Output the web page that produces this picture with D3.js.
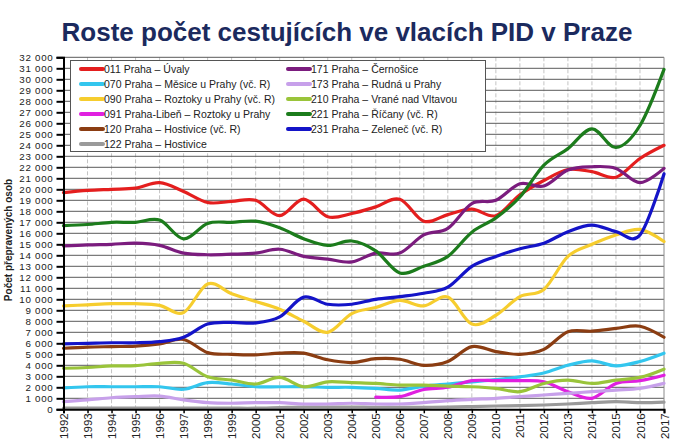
<!DOCTYPE html>
<html>
<head>
<meta charset="utf-8">
<script src="https://cdn.jsdelivr.net/npm/d3@7"></script>
<style>
  html, body { margin: 0; padding: 0; background: #ffffff; }
  svg { display: block; font-family: "Liberation Sans", Arial, sans-serif; }
</style>
</head>
<body>
<svg id="chart" width="682" height="443"></svg>
<script>
const titleText = "Roste počet cestujících ve vlacích PID v Praze";
const yAxisTitle = "Počet přepravených osob";
const years = [1992,1993,1994,1995,1996,1997,1998,1999,2000,2001,2002,2003,2004,2005,2006,2007,2008,2009,2010,2011,2012,2013,2014,2015,2016,2017];
const yTicks = [0,1000,2000,3000,4000,5000,6000,7000,8000,9000,10000,11000,12000,13000,14000,15000,16000,17000,18000,19000,20000,21000,22000,23000,24000,25000,26000,27000,28000,29000,30000,31000,32000];

const seriesNames = [
  "011 Praha – Úvaly",
  "070 Praha – Měsice u Prahy (vč. R)",
  "090 Praha – Roztoky u Prahy (vč. R)",
  "091 Praha-Libeň – Roztoky u Prahy",
  "120 Praha – Hostivice (vč. R)",
  "122 Praha – Hostivice",
  "171 Praha – Černošice",
  "173 Praha – Rudná u Prahy",
  "210 Praha – Vrané nad Vltavou",
  "221 Praha – Říčany (vč. R)",
  "231 Praha – Zeleneč (vč. R)"
];
const seriesColors = ["#e41e1e","#33c6ee","#f6cd2e","#e020e0","#8b3d12","#9a9a9a","#7b1c7e","#c7a0ea","#9ac43a","#1c7c1c","#1414c8"];

const s011 = [19700,19900,20000,20100,20600,19800,18800,18900,19000,17600,19100,17500,17800,18400,19100,17100,17700,18200,17600,19500,20800,21800,21600,21100,22800,24000];
const s070 = [1950,2050,2050,2050,2050,1820,2420,2300,2050,2050,2050,2000,2000,1900,1750,2100,2300,2500,2700,2950,3300,4000,4400,3950,4350,5100];
const s090 = [9400,9500,9600,9600,9450,8800,11400,10500,9800,9100,8000,7000,8700,9250,9900,9400,10200,7750,8550,10250,10900,13900,15000,15850,16350,15250];
const s091 = [null,null,null,null,null,null,null,null,null,null,null,null,null,1100,1150,1800,2000,2600,2600,2600,2500,1600,1000,2350,2600,3100];
const s120 = [5550,5650,5700,5750,5950,6350,5150,5000,4950,5100,5100,4500,4250,4600,4550,4000,4350,5700,5250,5000,5450,7050,7100,7350,7550,6550];
const s122 = [100,100,100,100,100,100,100,100,100,150,200,200,200,180,180,180,200,250,300,330,390,480,600,690,600,650];
const s171 = [14850,14950,15000,15100,14900,14200,14050,14100,14200,14550,13900,13650,13400,14200,14200,15850,16450,18700,19000,20500,20300,21750,22050,21900,20600,21900];
const s173 = [700,850,1050,1150,1200,850,600,550,600,600,480,480,550,480,480,600,780,900,1000,1150,1300,1450,1600,1750,1900,2360];
const s210 = [3730,3800,3940,3970,4180,4180,2960,2660,2300,2900,2050,2500,2420,2350,2200,2200,2100,2050,1900,1600,2350,2650,2350,2650,2900,3650];
const s221 = [16700,16800,17000,17000,17200,15500,16900,17000,17100,16500,15500,14900,15300,14400,12400,13000,13900,16100,17400,19300,22200,23700,25500,23800,25800,30900];
const s231 = [5950,6000,6050,6050,6150,6550,7750,7900,7850,8400,10200,9550,9550,10000,10250,10550,11100,13000,13900,14600,15100,16150,16750,16150,15850,21400];

const seriesValues = [s011,s070,s090,s091,s120,s122,s171,s173,s210,s221,s231];

const svg = d3.select("#chart");
const x = d3.scaleLinear().domain([1992, 2017]).range([63.5, 664]);
const y = d3.scaleLinear().domain([0, 32000]).range([409.3, 57.3]);
const fmtLocale = d3.formatLocale({decimal: ",", thousands: " ", grouping: [3], currency: ["", ""]});
const fmt = fmtLocale.format(",d");

// Title
svg.append("text")
  .attr("x", 347).attr("y", 41)
  .attr("text-anchor", "middle")
  .attr("font-size", 26).attr("font-weight", "bold")
  .attr("fill", "#1b2a5e")
  .text(titleText);

// vertical grid
svg.append("g").selectAll("line").data(years.slice(1, -1)).join("line")
  .attr("x1", d => x(d)).attr("x2", d => x(d))
  .attr("y1", y(32000)).attr("y2", y(0))
  .attr("stroke", "#c4c4c4").attr("stroke-width", 1).attr("stroke-dasharray", "4,2");

// horizontal grid
svg.append("g").selectAll("line").data(yTicks.slice(1)).join("line")
  .attr("x1", x(1992)).attr("x2", x(2017))
  .attr("y1", d => y(d)).attr("y2", d => y(d))
  .attr("stroke", "#5a5a5a").attr("stroke-width", 1);

// right border
svg.append("line")
  .attr("x1", x(2017)).attr("x2", x(2017))
  .attr("y1", y(32000)).attr("y2", y(0))
  .attr("stroke", "#8a8a8a").attr("stroke-width", 1);

// series
const line = d3.line()
  .defined(d => d[1] !== null)
  .x(d => x(d[0])).y(d => y(d[1]))
  .curve(d3.curveCardinal.tension(0));

const gSeries = svg.append("g");
seriesValues.forEach((vals, i) => {
  gSeries.append("path")
    .datum(years.map((yr, j) => [yr, vals[j]]))
    .attr("d", line)
    .attr("fill", "none")
    .attr("stroke", seriesColors[i])
    .attr("stroke-width", 3.2)
    .attr("stroke-linejoin", "round")
    .attr("stroke-linecap", "round");
});

// Y axis
const yAxis = d3.axisLeft(y).tickValues(yTicks).tickFormat(fmt).tickSize(7).tickPadding(3);
const gy = svg.append("g").attr("transform", `translate(${x(1992)},0)`).call(yAxis);
gy.select(".domain").attr("stroke", "#000").attr("stroke-width", 2);
gy.selectAll(".tick line").attr("stroke", "#000").attr("stroke-width", 2);
gy.selectAll(".tick text").attr("font-size", 9.8).attr("fill", "#222")
  .attr("letter-spacing", 0.7)
  .attr("font-family", "Liberation Sans, Arial, sans-serif");

// X axis
const xAxis = d3.axisBottom(x).tickValues(years).tickFormat(d3.format("d")).tickSize(4).tickPadding(3);
const gx = svg.append("g").attr("transform", `translate(0,${y(0)})`).call(xAxis);
gx.select(".domain").attr("stroke", "#000").attr("stroke-width", 2);
gx.selectAll(".tick line").attr("stroke", "#000").attr("stroke-width", 1.5);
gx.selectAll(".tick text")
  .attr("font-size", 11.5).attr("fill", "#222")
  .attr("font-family", "Liberation Sans, Arial, sans-serif")
  .attr("transform", "rotate(-90)")
  .attr("text-anchor", "end")
  .attr("x", -4).attr("y", 0).attr("dy", "0.35em");

// Y axis title
svg.append("text")
  .attr("transform", "translate(12,240) rotate(-90)")
  .attr("text-anchor", "middle")
  .attr("font-size", 10).attr("font-weight", "bold").attr("fill", "#222")
  .text(yAxisTitle);

// Legend
const lg = svg.append("g");
lg.append("rect")
  .attr("x", 70.5).attr("y", 60.5).attr("width", 415).attr("height", 91)
  .attr("fill", "#fff").attr("stroke", "#555").attr("stroke-width", 1);
seriesNames.forEach((name, i) => {
  const col = i < 6 ? 0 : 1;
  const row = i < 6 ? i : i - 6;
  const lx = col === 0 ? 81 : 288;
  const ly = 69 + row * 15;
  lg.append("line")
    .attr("x1", lx).attr("x2", lx + 22).attr("y1", ly).attr("y2", ly)
    .attr("stroke", seriesColors[i]).attr("stroke-width", 4).attr("stroke-linecap", "round");
  lg.append("text")
    .attr("x", lx + 23).attr("y", ly + 3.8)
    .attr("font-size", 10.5).attr("fill", "#222")
    .text(name);
});
</script>
</body>
</html>
